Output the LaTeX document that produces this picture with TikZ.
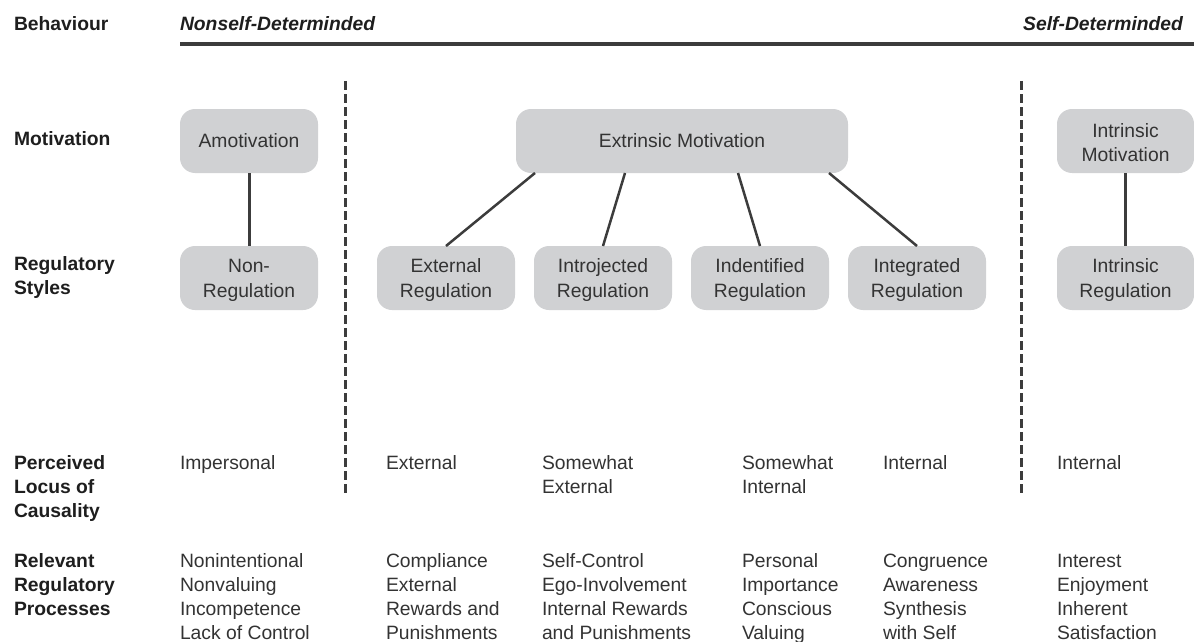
\documentclass[tikz,border=0pt]{standalone}
\usepackage{fontspec}
\setmainfont{Liberation Sans}
\newcommand\dgfs{\fontsize{19.3}{24.3}\selectfont}
\newcommand\dgup{\rule{0pt}{17.8pt}}
\definecolor{boxc}{RGB}{208,209,211}
\definecolor{linec}{RGB}{60,60,60}
\definecolor{textc}{RGB}{51,51,51}
\definecolor{labelc}{RGB}{30,30,30}
\begin{document}
\begin{tikzpicture}[x=1pt,y=-1pt,
  every node/.style={inner sep=0pt, outer sep=0pt},
  lbl/.style={anchor=north west, align=left, font=\dgfs\bfseries, text=labelc},
  txt/.style={anchor=north west, align=left, font=\dgfs, text=textc},
  box/.style={rounded corners=15pt, fill=boxc, minimum width=138pt, minimum height=64pt, align=center, font=\dgfs, text=textc},
  conn/.style={draw=linec, line width=3pt},
  sconn/.style={draw=linec, line width=2.5pt},
  sep/.style={draw=linec, line width=3pt, dash pattern=on 9pt off 4pt}]
\useasboundingbox (0,0) rectangle (1194,642);

% header
\node[lbl] (beh) at (14,13) {\strut Behaviour};
\node[lbl, font=\dgfs\bfseries\itshape] (nsd) at (180,13) {\strut Nonself-Determinded};
\node[lbl, anchor=north east, font=\dgfs\bfseries\itshape] (sd) at (1183,13) {\strut Self-Determinded};
\coordinate (hl) at (180,44);
\coordinate (hr) at (1194,44);
\draw[draw=linec, line width=3.5pt] (hl) -- (hr);

% dashed separators
\coordinate (d1t) at (345,81);
\coordinate (d1b) at (345,493);
\coordinate (d2t) at (1021,81);
\coordinate (d2b) at (1021,493);
\draw[sep] (d1t) -- (d1b);
\draw[sep] (d2t) -- (d2b);

% row labels
\node[lbl] (lmot) at (14,128) {\strut Motivation};
\node[lbl] (lreg) at (14,253) {\strut Regulatory\\Styles};
\node[lbl] (lloc) at (14,452) {\strut Perceived\\Locus of\\Causality};
\node[lbl] (lproc) at (14,550) {\strut Relevant\\Regulatory\\Processes};

% boxes
\node[box] (amo) at (249,141) {Amotivation};
\node[box] (nonr) at (249,278) {\dgup Non-\\Regulation};
\node[box, minimum width=332pt] (extm) at (682,141) {Extrinsic Motivation};
\node[box] (exr) at (446,278) {\dgup External\\Regulation};
\node[box] (inj) at (603,278) {\dgup Introjected\\Regulation};
\node[box] (idr) at (760,278) {\dgup Indentified\\Regulation};
\node[box] (itg) at (917,278) {\dgup Integrated\\Regulation};
\node[box, minimum width=137pt] (intm) at (1125.5,141) {\dgup Intrinsic\\Motivation};
\node[box, minimum width=137pt] (intr) at (1125.5,278) {\dgup Intrinsic\\Regulation};

% connectors
\draw[conn] (amo.south) -- (nonr.north);
\draw[conn] (intm.south) -- (intr.north);
\draw[sconn] ([xshift=-147pt]extm.south) -- (exr.north);
\draw[sconn] ([xshift=-57pt]extm.south) -- (inj.north);
\draw[sconn] ([xshift=56pt]extm.south) -- (idr.north);
\draw[sconn] ([xshift=147pt]extm.south) -- (itg.north);

% perceived locus
\node[txt] (p1) at (180,452) {\strut Impersonal};
\node[txt] (p2) at (386,452) {\strut External};
\node[txt] (p3) at (542,452) {\strut Somewhat\\External};
\node[txt] (p4) at (742,452) {\strut Somewhat\\Internal};
\node[txt] (p5) at (883,452) {\strut Internal};
\node[txt] (p6) at (1057,452) {\strut Internal};

% processes
\node[txt] (r1) at (180,550) {\strut Nonintentional\\Nonvaluing\\Incompetence\\Lack of Control};
\node[txt] (r2) at (386,550) {\strut Compliance\\External\\Rewards and\\Punishments};
\node[txt] (r3) at (542,550) {\strut Self-Control\\Ego-Involvement\\Internal Rewards\\and Punishments};
\node[txt] (r4) at (742,550) {\strut Personal\\Importance\\Conscious\\Valuing};
\node[txt] (r5) at (883,550) {\strut Congruence\\Awareness\\Synthesis\\with Self};
\node[txt] (r6) at (1057,550) {\strut Interest\\Enjoyment\\Inherent\\Satisfaction};
\end{tikzpicture}
\end{document}
